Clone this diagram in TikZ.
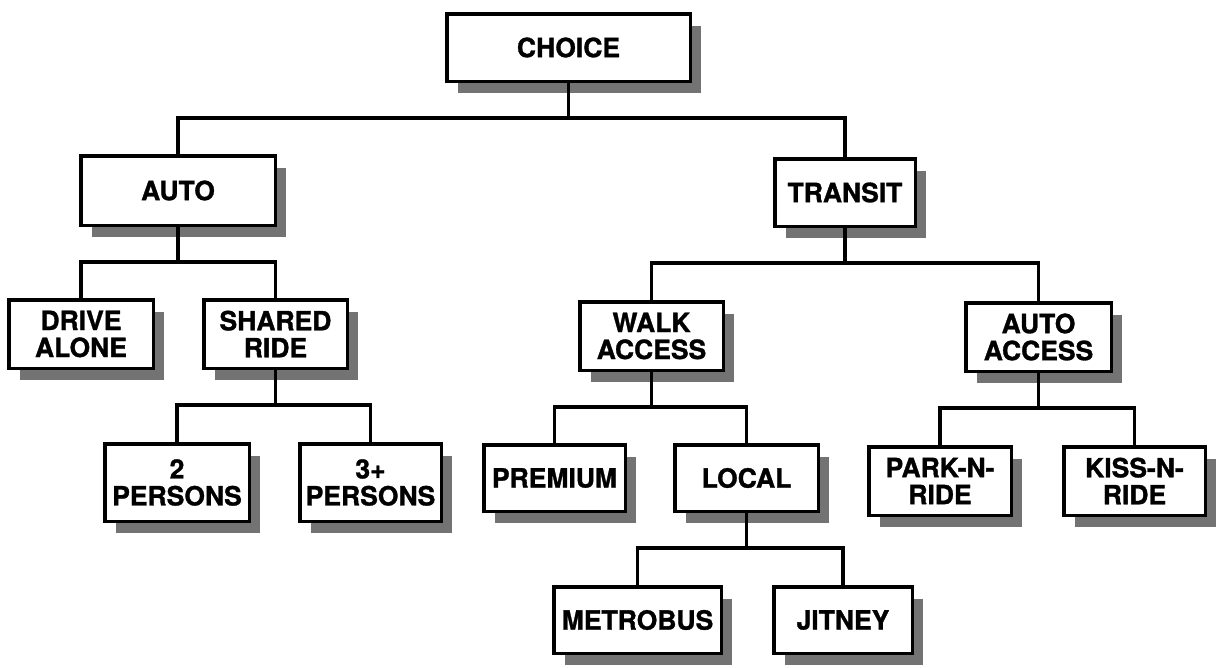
\documentclass[tikz,border=0pt]{standalone}
\usepackage{fontspec}
\setmainfont{TeX Gyre Heros}
\newfontfamily\boxfont[BoldFeatures={FakeBold=1.2}]{TeX Gyre Heros}
\usetikzlibrary{shadows}

\begin{document}
\begin{tikzpicture}[x=1pt,y=-1pt,
        box/.style={draw,line width=3.5pt,fill=white,inner sep=0pt,align=center,
            font=\fontsize{26.5}{27}\boxfont\bfseries,
            drop shadow={shadow xshift=11pt,shadow yshift=-12pt,fill=black!55,opacity=1}},
        link/.style={line width=3.5pt}]
    \useasboundingbox (0,0) rectangle (1218,667);
    % top level
    \node[box,minimum width=243.5pt,minimum height=67.5pt] (choice) at (568.5,47.5) {CHOICE};
    \node[box,minimum width=194.5pt,minimum height=69.5pt] (auto) at (178,190.5) {AUTO};
    \node[box,minimum width=140.5pt,minimum height=67.5pt] (transit) at (845,192.5) {TRANSIT};
    % auto branch
    \node[box,minimum width=144.5pt,minimum height=68.5pt] (drive) at (81,334) {DRIVE\\ALONE};
    \node[box,minimum width=143.5pt,minimum height=68.5pt] (shared) at (275.5,334) {SHARED\\RIDE};
    \node[box,minimum width=144.5pt,minimum height=77.5pt] (two) at (177,482.5) {2\\PERSONS};
    \node[box,minimum width=141.5pt,minimum height=77.5pt] (three) at (370.5,482.5) {3+\\PERSONS};
    % transit branch
    \node[box,minimum width=143.5pt,minimum height=68.5pt] (walk) at (651.5,336) {WALK\\ACCESS};
    \node[box,minimum width=145.5pt,minimum height=68.5pt] (autoacc) at (1038.5,337) {AUTO\\ACCESS};
    \node[box,minimum width=141.5pt,minimum height=66.5pt] (premium) at (554.5,478) {PREMIUM};
    \node[box,minimum width=143.5pt,minimum height=66.5pt] (local) at (746.5,478) {LOCAL};
    \node[box,minimum width=142.5pt,minimum height=68.5pt] (park) at (940,481) {PARK-N-\\RIDE};
    \node[box,minimum width=141.5pt,minimum height=68.5pt] (kiss) at (1134.5,481) {KISS-N-\\RIDE};
    \node[box,minimum width=167.5pt,minimum height=66.5pt] (metrobus) at (637.5,620) {METROBUS};
    \node[box,minimum width=138.5pt,minimum height=66.5pt] (jitney) at (843,620) {JITNEY};
    % connectors
    \foreach \p/\c in {choice/auto,choice/transit,auto/drive,auto/shared,
            shared/two,shared/three,transit/walk,transit/autoacc,
            walk/premium,walk/local,autoacc/park,autoacc/kiss,
            local/metrobus,local/jitney}
        \draw[link] (\p.south) -- ++(0,35) -| (\c.north);
\end{tikzpicture}
\end{document}
